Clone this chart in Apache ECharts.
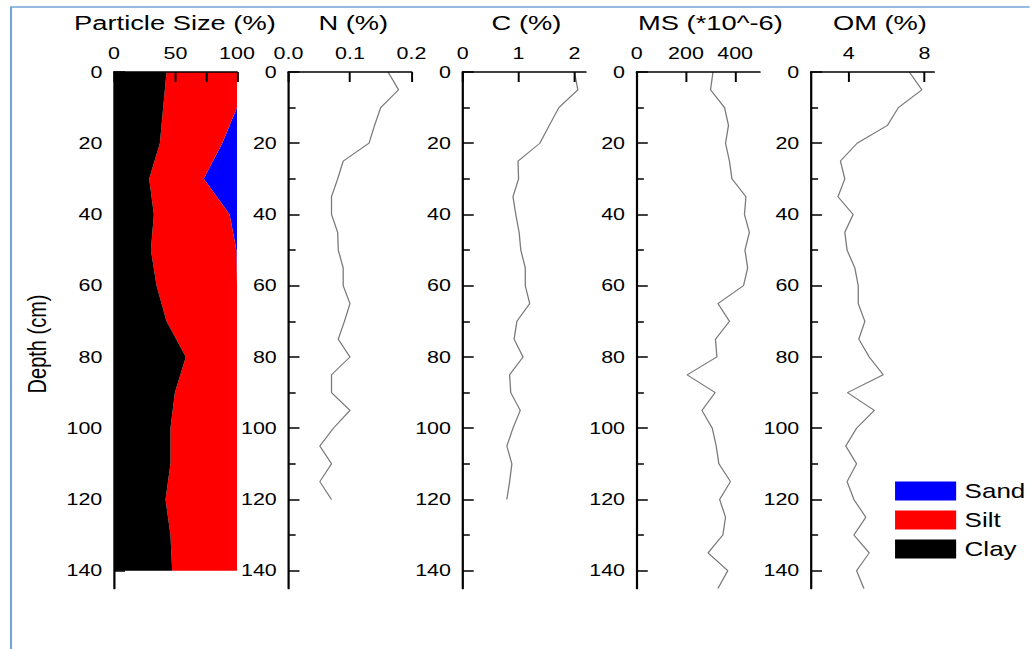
<!DOCTYPE html>
<html><head><meta charset="utf-8">
<script src="https://cdn.jsdelivr.net/npm/echarts@6/dist/echarts.min.js"></script>
<style>
html,body{margin:0;padding:0;background:#fff;overflow:hidden;width:1030px;height:649px;}
#c{width:792px;height:649px;transform:scaleX(1.3);transform-origin:0 0;}
</style></head><body><div id="c"></div>
<script>
// ---- data ----
const psDepth = [0,10,20,30,40,50,60,70,80,90,100,110,120,130,140];
const clay = [42.7,40,37.3,28.6,32.4,30,34.6,42.7,58.4,49.5,45.9,45.9,41.9,45.9,47.3];
const silt = [57.3,60,50.7,44.4,61.6,69.5,65.4,57.3,41.6,50.5,54.1,54.1,58.1,54.1,52.7];
const sand = [0,0,12,27,6,0.5,0,0,0,0,0,0,0,0,0];

const lineDepth = [0,5,10,15,20,25,30,35,40,45,50,55,60,65,70,75,80,85,90,95,100,105,110,115,120,125,130,135,140,145];
const nVals = [0.162,0.179,0.150,0.140,0.131,0.089,0.080,0.070,0.070,0.080,0.081,0.089,0.089,0.100,0.091,0.081,0.100,0.070,0.070,0.100,0.073,0.051,0.070,0.051,0.070];
const cVals = [2.0,2.06,1.72,1.55,1.38,0.99,1.0,0.90,0.95,1.01,1.04,1.12,1.12,1.2,0.97,0.92,1.08,0.84,0.86,1.03,0.90,0.79,0.88,0.84,0.79];
const msVals = [310,300,357,373,361,377,387,444,438,458,440,451,434,330,377,320,326,205,319,265,307,323,334,381,337,361,350,290,370,330];
const omVals = [7.2,7.86,6.62,6.04,4.44,3.56,3.79,3.43,4.23,3.79,3.91,4.32,4.5,4.5,4.85,4.53,5.08,5.82,3.93,5.35,4.41,3.84,4.41,3.91,4.27,4.9,4.27,5.08,4.41,4.8];

const panelTitles = ['Particle Size (%)','N (%)','C (%)','MS (*10^-6)','OM (%)'];
const xMin = [0,0,0,0,2];
const xMax = [100,0.2,2.2,500,8.5];
const xLabelVals = [[0,50,100],[0,0.1,0.2],[0,1,2],[0,200,400],[4,8]];
const xTickVals = [[0,25,50,75,100],[0,0.1,0.2],[0,1,2],[0,200,400],[4,8]];
const depthLabels = [0,20,40,60,80,100,120,140];
const depthMinor = [10,30,50,70,90,110,130];

// ---- layout (chart units; container stretched 1.3x horizontally) ----
const FONT = '"Liberation Sans", Arial, sans-serif';
const lefts = [87.7, 221.9, 355.9, 489.8, 623.8];
const W = 94.6, TOP = 72, H = 516.5;
const titleX = [134.6, 271.8, 405, 546.5, 676.9];

const grids = [], xAxes = [], yAxes = [];
for (let g = 0; g < 5; g++) {
  grids.push({left: lefts[g], top: TOP, width: W, height: H, containLabel: false});
  xAxes.push({
    type: 'value', gridIndex: g, position: 'top', min: xMin[g], max: xMax[g], z: 5,
    axisLine: {show: true, lineStyle: {color: '#000', width: 1.7}},
    axisTick: {show: true, inside: true, length: 10, lineStyle: {color: '#000', width: 1.5}, customValues: xTickVals[g]},
    axisLabel: {show: true, customValues: xLabelVals[g], color: '#000', fontSize: 16.5, fontFamily: FONT, margin: 10,
      formatter: g === 1 ? (v => v.toFixed(1)) : (v => String(v))},
    splitLine: {show: false}
  });
  yAxes.push({
    type: 'value', gridIndex: g, position: 'left', inverse: true, min: 0, max: 145, z: 5,
    axisLine: {show: true, lineStyle: {color: '#000', width: 1.7}},
    axisTick: {show: true, inside: true, length: 8.5, lineStyle: {color: '#000', width: 1.5}, customValues: depthLabels},
    axisLabel: {show: true, customValues: depthLabels, color: '#000', fontSize: 16.5, fontFamily: FONT, margin: 9},
    splitLine: {show: false}
  });
  yAxes.push({
    type: 'value', gridIndex: g, position: 'left', inverse: true, min: 0, max: 145, z: 5,
    axisLine: {show: false},
    axisTick: {show: true, inside: true, length: 5.5, lineStyle: {color: '#000', width: 1.5}, customValues: depthMinor},
    axisLabel: {show: false},
    splitLine: {show: false}
  });
}

function layer(lo, hi) {
  return function (params, api) {
    const pts = [];
    for (let i = 0; i < psDepth.length; i++) pts.push(api.coord([lo(i), psDepth[i]]));
    for (let i = psDepth.length - 1; i >= 0; i--) pts.push(api.coord([hi(i), psDepth[i]]));
    return {type: 'polygon', shape: {points: pts}, style: {fill: api.visual('color')}};
  };
}

function profile(vals) {
  return vals.map((v, i) => [v, lineDepth[i]]);
}

const lineStyle = {color: '#7a7a7a', width: 1};
const series = [
  {name: 'Sand', type: 'custom', xAxisIndex: 0, yAxisIndex: 0, itemStyle: {color: '#0000ff'}, data: [[0, 0]],
   renderItem: layer(i => clay[i] + silt[i], i => clay[i] + silt[i] + sand[i])},
  {name: 'Silt', type: 'custom', xAxisIndex: 0, yAxisIndex: 0, itemStyle: {color: '#ff0000'}, data: [[0, 0]],
   renderItem: layer(i => clay[i], i => clay[i] + silt[i])},
  {name: 'Clay', type: 'custom', xAxisIndex: 0, yAxisIndex: 0, itemStyle: {color: '#000000'}, data: [[0, 0]],
   renderItem: layer(i => 0, i => clay[i])},
  {type: 'line', xAxisIndex: 1, yAxisIndex: 2, data: profile(nVals), showSymbol: false, lineStyle, silent: true},
  {type: 'line', xAxisIndex: 2, yAxisIndex: 4, data: profile(cVals), showSymbol: false, lineStyle, silent: true},
  {type: 'line', xAxisIndex: 3, yAxisIndex: 6, data: profile(msVals), showSymbol: false, lineStyle, silent: true},
  {type: 'line', xAxisIndex: 4, yAxisIndex: 8, data: profile(omVals), showSymbol: false, lineStyle, silent: true}
];

const graphics = [
  {type: 'rect', shape: {x: 8.5, y: 7, width: 900, height: 800}, style: {fill: 'none', stroke: '#74a5d9', lineWidth: 1.6}, z: 0, silent: true},
  {type: 'text', x: 28.5, y: 344, rotation: Math.PI / 2,
   style: {text: 'Depth (cm)', x: 0, y: 0, textAlign: 'center', textVerticalAlign: 'middle', align: 'center', verticalAlign: 'middle', font: '20px ' + FONT, fill: '#000'}}
];
panelTitles.forEach((t, i) => graphics.push({
  type: 'text', style: {text: t, x: titleX[i], y: 23, textAlign: 'center', textVerticalAlign: 'middle', align: 'center', verticalAlign: 'middle', font: '21px ' + FONT, fill: '#000'}
}));

const chart = echarts.init(document.getElementById('c'), null, {renderer: 'svg'});
chart.setOption({
  animation: false,
  backgroundColor: '#fff',
  grid: grids,
  xAxis: xAxes,
  yAxis: yAxes,
  legend: {
    data: ['Sand', 'Silt', 'Clay'], orient: 'vertical', left: 688.5, top: 481, padding: 0,
    itemWidth: 47, itemHeight: 19, itemGap: 9, icon: 'rect',
    textStyle: {color: '#000', fontSize: 20, fontFamily: FONT, padding: [0, 0, 0, 1.5]},
    selectedMode: false
  },
  graphic: graphics,
  series
});
</script></body></html>
